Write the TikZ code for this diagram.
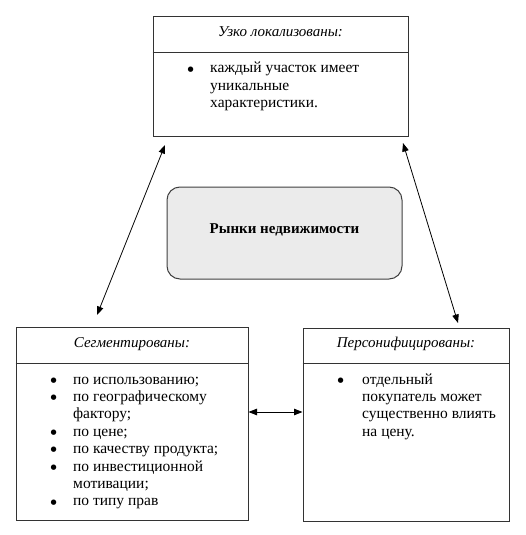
\documentclass[tikz,border=0pt]{standalone}
\usepackage{fontspec}
\setmainfont{Liberation Serif}
\newfontfamily\symfont{DejaVu Sans}
\usetikzlibrary{arrows.meta}
\newcommand\bul[1]{\makebox[#1][l]{\raisebox{1.8pt}{\symfont\fontsize{7}{8}\selectfont ●}}}
\begin{document}
\begin{tikzpicture}[x=1pt,y=-1pt,
  box/.style={draw=black!80, line width=1pt, rectangle, inner sep=0pt},
  central/.style={draw=black!75, line width=1pt, fill=black!8, rounded corners=13pt, inner sep=0pt},
  hdr/.style={anchor=base, inner sep=0pt, font=\fontsize{15}{17.4}\selectfont\itshape},
  lst/.style={anchor=base west, inner sep=0pt, font=\fontsize{15.5}{17.4}\selectfont},
  link/.style={line width=0.8pt, {Triangle[length=8.5pt,width=6.5pt]}-{Triangle[length=8.5pt,width=6.5pt]}}]
\useasboundingbox (0,0) rectangle (525,535);
\fill[white] (0,0) rectangle (525,535);
% boxes
\node[box, minimum width=255pt, minimum height=120pt] (top) at (280.5,76.5) {};
\node[box, minimum width=232pt, minimum height=193pt] (left) at (132,423.5) {};
\node[box, minimum width=206pt, minimum height=193pt] (right) at (406,424.5) {};
\node[central, minimum width=235pt, minimum height=92pt] (center) at (284.5,233) {};
% header dividers
\coordinate (d1) at (0,53);
\coordinate (d2) at (0,363);
\draw[black!80, line width=1pt] (top.west |- d1) -- (top.east |- d1);
\draw[black!80, line width=1pt] (left.west |- d2) -- (left.east |- d2);
\draw[black!80, line width=1pt] (right.west |- d2) -- (right.east |- d2);
% headers
\node[hdr] (toph) at (280.5,37) {Узко локализованы:};
\node[hdr] (lefth) at (132,347) {Сегментированы:};
\node[hdr] (righth) at (406,347) {Персонифицированы:};
\node[anchor=base, inner sep=0pt, font=\fontsize{15}{17.4}\selectfont\bfseries] (ctext) at (284.5,233) {Рынки недвижимости};
% lists
\node[lst] (topl) at (187.5,73) {\parbox[t]{220pt}{\raggedright
\bul{22.5pt}каждый участок имеет\\
\hspace*{22.5pt}уникальные\\
\hspace*{22.5pt}характеристики.}};
\node[lst] (leftl) at (50.5,384) {\parbox[t]{195pt}{\raggedright
\bul{22.5pt}по использованию;\\
\bul{22.5pt}по географическому\\
\hspace*{22.5pt}фактору;\\
\bul{22.5pt}по цене;\\
\bul{22.5pt}по качеству продукта;\\
\bul{22.5pt}по инвестиционной\\
\hspace*{22.5pt}мотивации;\\
\bul{22.5pt}по типу прав}};
\node[lst] (rightl) at (337.5,384) {\parbox[t]{170pt}{\raggedright
\bul{24.5pt}отдельный\\
\hspace*{24.5pt}покупатель может\\
\hspace*{24.5pt}существенно влиять\\
\hspace*{24.5pt}на цену.}};
% connectors
\coordinate (a1) at (165,145);
\coordinate (a2) at (97,315);
\coordinate (b1) at (403,143);
\coordinate (b2) at (458,323);
\draw[link] (a1) -- (a2);
\draw[link] (b1) -- (b2);
\draw[link] (left.east |- 0,412) -- (right.west |- 0,412);
\end{tikzpicture}
\end{document}
